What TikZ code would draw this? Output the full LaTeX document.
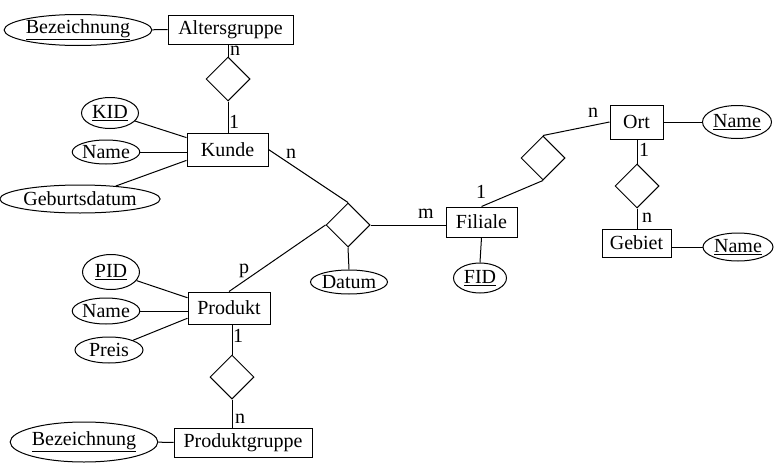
\documentclass[tikz,border=0pt]{standalone}
\usepackage{fontspec}
\setmainfont{Liberation Serif}
\usetikzlibrary{shapes.geometric,calc}
\begin{document}
\begin{tikzpicture}[x=1pt,y=-1pt,line width=1pt,
  font=\fontsize{20}{22}\selectfont,
  ent/.style={draw,rectangle,inner sep=0pt},
  attr/.style={draw,ellipse,inner sep=0pt},
  rel/.style={draw,diamond,inner sep=0pt,minimum width=44pt,minimum height=44pt},
  card/.style={anchor=base,inner sep=0pt}]
\useasboundingbox (0,0) rectangle (774,463);
% entities
\node[ent,minimum width=125pt,minimum height=29pt] (alt) at (230.5,29.5) {Altersgruppe};
\node[ent,minimum width=81pt,minimum height=33pt] (kunde) at (227.5,149.5) {Kunde};
\node[ent,minimum width=82pt,minimum height=32pt] (produkt) at (229,308) {Produkt};
\node[ent,minimum width=138pt,minimum height=29pt] (pgruppe) at (243,442.5) {Produktgruppe};
\node[ent,minimum width=71pt,minimum height=30pt] (filiale) at (481.5,222) {Filiale};
\node[ent,minimum width=53pt,minimum height=34pt] (ort) at (636.5,122) {Ort};
\node[ent,minimum width=69pt,minimum height=28pt] (gebiet) at (636.5,243) {Gebiet};
% attributes
\node[attr,minimum width=124pt,minimum height=31pt] (bez1) at (78,30) {\underline{Bezeichnung}};
\node[attr,minimum width=57pt,minimum height=31pt] (kid) at (110,113) {\underline{KID}};
\node[attr,minimum width=66pt,minimum height=24pt] (kname) at (106,152) {Name};
\node[attr,minimum width=145pt,minimum height=28pt] (geb) at (80,199) {Geburtsdatum};
\node[attr,minimum width=57pt,minimum height=35pt] (pid) at (111,272) {\underline{PID}};
\node[attr,minimum width=67pt,minimum height=26pt] (pname) at (106,311) {Name};
\node[attr,minimum width=68pt,minimum height=26pt] (preis) at (109,350) {Preis};
\node[attr,minimum width=123pt,minimum height=40pt] (bez2) at (84,442) {\underline{Bezeichnung}};
\node[attr,minimum width=72pt,minimum height=24pt] (datum) at (349,282) {Datum};
\node[attr,minimum width=53pt,minimum height=30pt] (fid) at (480,278) {\underline{FID}};
\node[attr,minimum width=69pt,minimum height=33pt] (oname) at (737,122) {\underline{Name}};
\node[attr,minimum width=70pt,minimum height=28pt] (gname) at (738,247) {\underline{Name}};
% relationships
\node[rel] (r1) at (228,79) {};
\node[rel] (r0) at (348,225) {};
\node[rel] (r2) at (543,158) {};
\node[rel] (r3) at (637,186) {};
\node[rel] (r4) at (232,377) {};
% connection points
\coordinate (k1) at ($(kunde.north west)!0.15!(kunde.south west)$);
\coordinate (k3) at ($(kunde.north west)!0.82!(kunde.south west)$);
\coordinate (p1) at ($(produkt.north west)!0.19!(produkt.south west)$);
\coordinate (p3) at ($(produkt.north west)!0.81!(produkt.south west)$);
% connectors
\draw (bez1) -- (alt);
\draw (alt.south -| r1.north) -- (r1.north);
\draw (r1.south) -- (kunde.north -| r1.south);
\draw (kid) -- (k1);
\draw (kname) -- (kunde.west |- kname);
\draw (geb) -- (k3);
\draw (kunde.east) -- (r0.north);
\draw (produkt.north) -- (r0.west);
\draw (r0.east) -- (filiale.west |- r0.east);
\draw (r0.south) -- (datum.north);
\draw (filiale.south) -- (fid.north);
\draw (filiale.north) -- (r2.south);
\draw (r2.north) -- (ort.west);
\draw (ort) -- (oname);
\draw (ort.south -| r3.north) -- (r3.north);
\draw (r3.south) -- (gebiet.north -| r3.south);
\draw (gebiet.east |- gname) -- (gname);
\draw (pid) -- (p1);
\draw (pname) -- (produkt.west |- pname);
\draw (preis) -- (p3);
\draw (produkt.south -| r4.north) -- (r4.north);
\draw (r4.south) -- (pgruppe.north -| r4.south);
\draw (bez2) -- (pgruppe);
% cardinalities
\node[card] (c1) at (235,55) {n};
\node[card] (c2) at (234,128) {1};
\node[card] (c3) at (291,158) {n};
\node[card] (c4) at (244,273) {p};
\node[card] (c5) at (426,218) {m};
\node[card] (c6) at (481,198) {1};
\node[card] (c7) at (593,117) {n};
\node[card] (c8) at (644,156) {1};
\node[card] (c9) at (647,222) {n};
\node[card] (c10) at (238,342) {1};
\node[card] (c11) at (240,423) {n};
\end{tikzpicture}
\end{document}
